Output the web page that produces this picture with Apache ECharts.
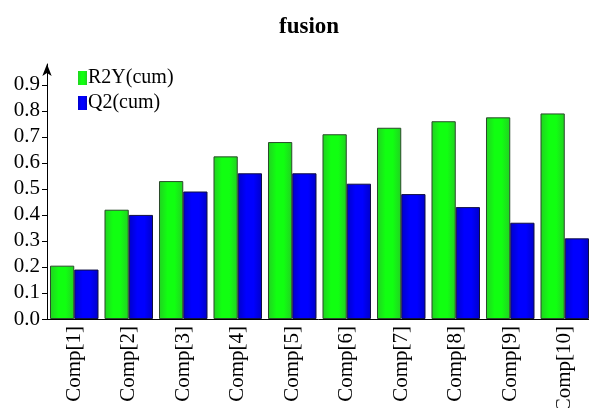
<!DOCTYPE html>
<html><head><meta charset="utf-8">
<script src="https://cdn.jsdelivr.net/npm/echarts@6/dist/echarts.min.js"></script>
<style>html,body{margin:0;padding:0;background:#fff}#c{width:589px;height:408px}</style>
</head><body><div id="c"></div>
<script>
var categories = ['Comp[1]','Comp[2]','Comp[3]','Comp[4]','Comp[5]','Comp[6]','Comp[7]','Comp[8]','Comp[9]','Comp[10]'];
var r2y = [0.205,0.42,0.53,0.625,0.68,0.71,0.735,0.76,0.775,0.79];
var q2 = [0.19,0.40,0.49,0.56,0.56,0.52,0.48,0.43,0.37,0.31];
var yTicks = [0,0.1,0.2,0.3,0.4,0.5,0.6,0.7,0.8,0.9];

var font = 'Liberation Serif';
function grad(edge, mid){
  return {type:'linear',x:0,y:0,x2:1,y2:0,colorStops:[
    {offset:0,color:edge},{offset:0.35,color:mid},{offset:0.65,color:mid},{offset:1,color:edge}]};
}
var chart = echarts.init(document.getElementById('c'));
chart.setOption({
  animation:false,
  title:{text:'fusion',left:274,top:11,textStyle:{fontFamily:font,fontWeight:'bold',fontSize:23,color:'#000'}},
  legend:{orient:'vertical',left:73,top:63,itemWidth:9,itemHeight:14,itemGap:5,
    icon:'rect',
    itemStyle:{borderWidth:0},
    textStyle:{fontFamily:font,fontSize:20,color:'#000',padding:[0,0,0,-4]},
    data:['R2Y(cum)','Q2(cum)']},
  grid:{left:47,right:-3,top:64,bottom:89,containLabel:false,outerBoundsMode:'none'},
  xAxis:{type:'category',data:categories,
    axisLine:{lineStyle:{color:'#000',width:1}},
    axisTick:{show:false},
    axisLabel:{rotate:90,fontFamily:font,fontSize:21,color:'#000',margin:7,interval:0}},
  yAxis:{type:'value',min:0,max:0.98,interval:0.1,
    splitLine:{show:false},
    axisLine:{show:true,lineStyle:{color:'#000',width:1},symbol:['none','arrow'],symbolSize:[7,12]},
    axisTick:{show:true,length:5,lineStyle:{color:'#000'},customValues:yTicks},
    axisLabel:{fontFamily:font,fontSize:21,color:'#000',margin:7,customValues:yTicks,
      formatter:function(v){return v.toFixed(1);}}},
  series:[
    {name:'R2Y(cum)',type:'bar',data:r2y,barGap:'0%',barCategoryGap:'11%',
     itemStyle:{color:grad('#22d022','#11ff11'),borderColor:'#2a4a2a',borderWidth:1}},
    {name:'Q2(cum)',type:'bar',data:q2,
     itemStyle:{color:grad('#0000c8','#0000ff'),borderColor:'#101040',borderWidth:1}}
  ]
});
</script></body></html>
